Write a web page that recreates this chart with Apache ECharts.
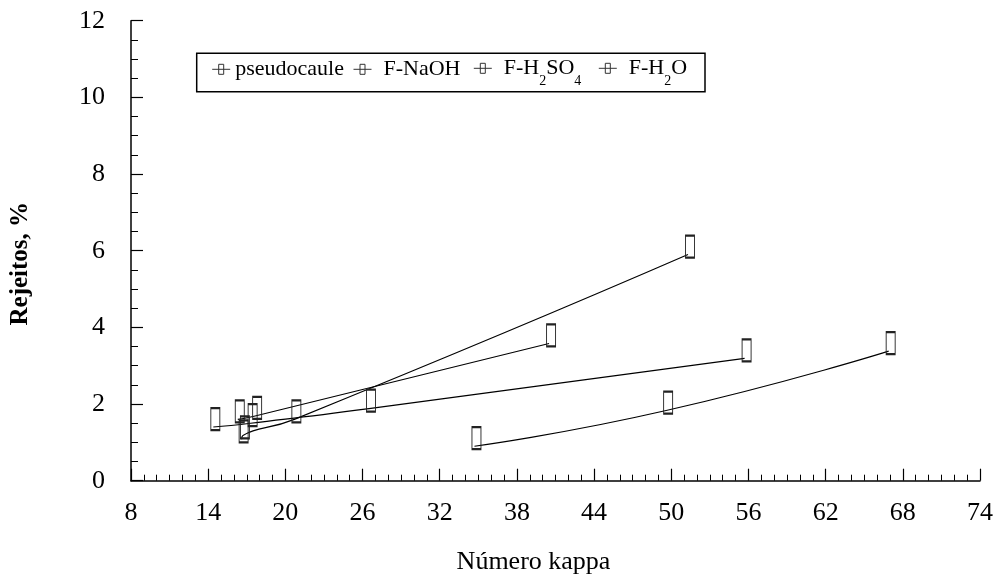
<!DOCTYPE html>
<html><head><meta charset="utf-8">
<script src="https://cdn.jsdelivr.net/npm/echarts@6/dist/echarts.min.js"></script>
<style>html,body{margin:0;padding:0;background:#fff}#c{width:996px;height:583px}</style>
</head><body><div id="c"></div>
<script>
// ---- data ----
const xTicks = [8, 14, 20, 26, 32, 38, 44, 50, 56, 62, 68, 74];
const yTicks = [0, 2, 4, 6, 8, 10, 12];
const seriesNames = ['pseudocaule', 'F-NaOH', 'F-H2SO4', 'F-H2O'];
const pseudocauleX = [16.6, 16.7, 20.7, 51.3];
const pseudocauleY = [1.08, 1.18, 1.6, 5.9];
const naohX = [16.3, 17.65, 40.5];
const naohY = [1.6, 1.69, 3.58];
const h2so4X = [14.4, 17.3, 26.5, 55.7];
const h2so4Y = [1.4, 1.5, 1.88, 3.19];
const h2oX = [34.7, 49.6, 66.9];
const h2oY = [0.9, 1.83, 3.38];

// ---- build ----
const X0 = xTicks[0];
const XI = xTicks[1] - xTicks[0];
const xsAll = [pseudocauleX, naohX, h2so4X, h2oX];
const ysAll = [pseudocauleY, naohY, h2so4Y, h2oY];
const FONT = '"Liberation Serif", "Times New Roman", serif';

const legendLabels = {
  'pseudocaule': '{a|pseudocaule}',
  'F-NaOH': '{g|}{a|F-NaOH}',
  'F-H2SO4': '{g|}{a|F-H}{s|2}{a|SO}{s|4}',
  'F-H2O': '{g|}{a|F-H}{s|2}{a|O}'
};
const legendLeft = [211.7, 353, 473.3, 598.3];
const legendTop = [58.3, 58.3, 48.3, 48.3];

const series = seriesNames.map((name, k) => ({
  type: 'line',
  name: name,
  data: xsAll[k].map((x, i) => [x - X0, ysAll[k][i]]),
  smooth: 0.55,
  symbol: 'rect',
  symbolSize: [9, 22],
  symbolOffset: [2, -8],
  itemStyle: { color: 'rgba(0,0,0,0)', borderColor: '#222', borderWidth: 1.4 },
  lineStyle: { color: '#000', width: 1.1 },
  emphasis: { disabled: true },
  silent: true
}));

const legends = seriesNames.map((name, k) => ({
  data: [{ name: name, icon: 'path://M0,5L18,5M6.5,0L11.5,0L11.5,10L6.5,10Z' }],
  left: legendLeft[k],
  top: legendTop[k],
  padding: 0,
  itemWidth: 18,
  itemHeight: 10,
  selectedMode: false,
  itemStyle: { color: 'rgba(0,0,0,0)', borderColor: '#333', borderWidth: 1 },
  formatter: n => legendLabels[n],
  textStyle: {
    color: '#000',
    fontFamily: FONT,
    rich: {
      a: { fontSize: 22, lineHeight: 40, fontFamily: FONT, color: '#000' },
      s: { fontSize: 14, lineHeight: 14, padding: [26, 0, 0, 0], fontFamily: FONT, color: '#000' },
      g: { width: 7 }
    }
  }
}));

const chart = echarts.init(document.getElementById('c'), null, { renderer: 'canvas' });
chart.setOption({
  animation: false,
  backgroundColor: '#fff',
  grid: { left: 131, right: 15, top: 20.7, bottom: 102.3, containLabel: false },
  legend: legends,
  graphic: [{
    type: 'rect',
    shape: { x: 196.7, y: 53.3, width: 508.3, height: 38.4 },
    style: { fill: 'none', stroke: '#000', lineWidth: 1.5 },
    silent: true
  }],
  xAxis: {
    type: 'value',
    min: 0,
    max: xTicks[xTicks.length - 1] - X0,
    interval: XI,
    name: 'Número kappa',
    nameLocation: 'middle',
    nameGap: 68,
    nameTextStyle: { fontFamily: FONT, fontSize: 26, color: '#000', padding: [0, 44, 0, 0] },
    axisLine: { show: true, lineStyle: { color: '#000', width: 1.5 } },
    axisTick: { show: true, inside: true, length: 12, lineStyle: { color: '#000', width: 1.2 } },
    minorTick: { show: true, splitNumber: XI, length: 6, lineStyle: { color: '#000', width: 1 } },
    axisLabel: { formatter: v => String(v + X0), fontFamily: FONT, fontSize: 26, color: '#000', margin: 19 },
    splitLine: { show: false },
    minorSplitLine: { show: false }
  },
  yAxis: {
    type: 'value',
    min: yTicks[0],
    max: yTicks[yTicks.length - 1],
    interval: yTicks[1] - yTicks[0],
    name: 'Rejeitos, %',
    nameLocation: 'middle',
    nameGap: 98,
    nameTextStyle: { fontFamily: FONT, fontSize: 25, fontWeight: 'bold', color: '#000', padding: [0, 26, 0, 0] },
    axisLine: { show: true, lineStyle: { color: '#000', width: 1.5 } },
    axisTick: { show: true, inside: true, length: 12, lineStyle: { color: '#000', width: 1.2 } },
    minorTick: { show: true, splitNumber: 4, length: 7, lineStyle: { color: '#000', width: 1 } },
    axisLabel: { fontFamily: FONT, fontSize: 26, color: '#000', margin: 26 },
    splitLine: { show: false },
    minorSplitLine: { show: false }
  },
  series: series
});
</script>
</body></html>
